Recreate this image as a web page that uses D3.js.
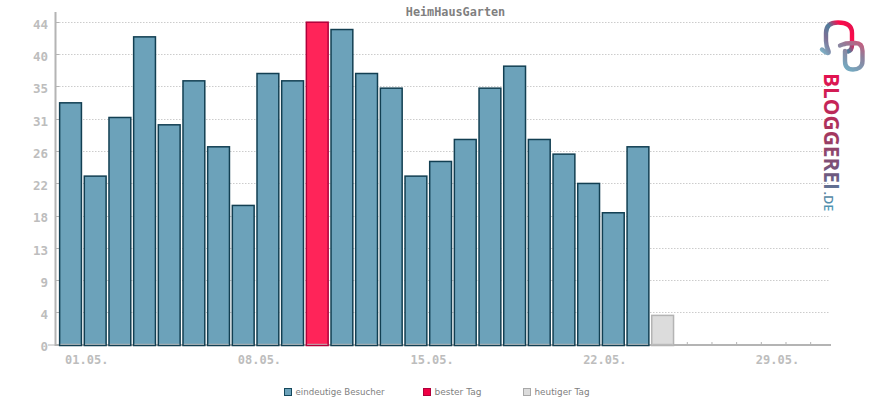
<!DOCTYPE html>
<html><head><meta charset="utf-8">
<script src="https://cdnjs.cloudflare.com/ajax/libs/d3/7.8.5/d3.min.js"></script>
<style>html,body{margin:0;padding:0;background:#fff}svg{display:block}text{font-family:"DejaVu Sans Mono",monospace}</style>
</head><body><svg id="c" width="870" height="400"></svg>
<script>
const title = "HeimHausGarten";
const days = d3.range(1, 32);
const visitors = [33,23,31,42,30,36,27,19,37,36,44,43,37,35,23,25,28,35,38,28,26,22,18,27,4];
const bestDay = 11;
const todayDay = 25;
const yTicks = [0,4.4,8.8,13.2,17.6,22,26.4,30.8,35.2,39.6,44];
const xLabels = {1:"01.05.",8:"08.05.",15:"15.05.",22:"22.05.",29:"29.05."};
const legendNames = ["eindeutige Besucher","bester Tag","heutiger Tag"];

const svg = d3.select("#c");
const x = d3.scaleBand().domain(days).range([58.2,823]).paddingInner(0.1).paddingOuter(0.05);
const y = d3.scaleLinear().domain([0,44]).range([345,22.5]);
const AX="#b4b4b4", TXT="#bdbdbd";
const style = d => d===bestDay ? {f:"#ff2459",s:"#b0003a"} : d===todayDay ? {f:"#dcdcdc",s:"#b4b4b4"} : {f:"#6ca2ba",s:"#123f52"};
const gridY = d => Math.floor(y(d))+.5;

// grid
svg.append("g").selectAll("line").data(yTicks.slice(1)).join("line")
  .attr("x1",56).attr("x2",830).attr("y1",gridY).attr("y2",gridY)
  .attr("stroke","#cccccc").attr("stroke-width",1).attr("stroke-dasharray","1.5 1.5");

// title
svg.append("text").attr("x",455.5).attr("y",16).attr("text-anchor","middle")
  .attr("font-size",11.8).attr("font-weight","bold").attr("fill","#808080").text(title);

// axes
const yAxis = d3.axisLeft(y).tickValues(yTicks).tickFormat(d=>Math.round(d)).tickSize(0).tickPadding(8);
const gy = svg.append("g").attr("transform","translate(56,0)").call(yAxis);
gy.select(".domain").remove();
gy.selectAll("text").attr("font-size",12.5).attr("font-weight","bold").attr("fill",TXT)
  .attr("font-family","DejaVu Sans Mono").attr("dy","0.62em").attr("x",-8).attr("y",-2);
svg.append("g").selectAll("line").data(yTicks.slice(1)).join("line")
  .attr("x1",56).attr("x2",59).attr("y1",gridY).attr("y2",gridY).attr("stroke",AX);

const xAxis = d3.axisBottom(x).tickValues(days).tickFormat(d=>xLabels[d]||"").tickSize(0).tickPadding(8);
const gx = svg.append("g").attr("transform","translate(0,345)").call(xAxis);
gx.select(".domain").remove();
gx.selectAll("text").attr("font-size",12).attr("font-weight","bold").attr("fill",TXT)
  .attr("font-family","DejaVu Sans Mono").attr("text-anchor","start").attr("dx",-5.5).attr("y",10);
gx.selectAll(".tick").append("line").attr("y1",-3).attr("y2",0).attr("stroke",AX);

// axis lines
svg.append("line").attr("x1",55.5).attr("x2",55.5).attr("y1",12).attr("y2",346).attr("stroke",AX).attr("stroke-width",2);
svg.append("line").attr("x1",48).attr("x2",55).attr("y1",345).attr("y2",345).attr("stroke",AX).attr("stroke-width",1);
svg.append("line").attr("x1",55).attr("x2",831).attr("y1",345).attr("y2",345).attr("stroke",AX).attr("stroke-width",2);

// bars
svg.append("g").selectAll("rect").data(visitors).join("rect")
  .attr("x",(d,i)=>x(i+1)+.2).attr("width",x.bandwidth()-.4)
  .attr("y",d=>y(d)-.3).attr("height",d=>y(0)-y(d)+.8)
  .attr("fill",(d,i)=>style(i+1).f).attr("stroke",(d,i)=>style(i+1).s).attr("stroke-width",1.5);
svg.append("g").selectAll("line").data(visitors).join("line")
  .attr("x1",(d,i)=>x(i+1)+1).attr("x2",(d,i)=>x(i+1)+x.bandwidth()-1).attr("y1",344.3).attr("y2",344.3)
  .attr("stroke",AX).attr("stroke-width",1);

// legend
const lg = [[284,295.5],[423,434.5],[523,534.5]];
const lgStyle = [{f:"#6ca2ba",s:"#15485c"},{f:"#ef0044",s:"#b0003a"},{f:"#dcdcdc",s:"#a8a8a8"}];
const lgWidth = [89,47,55];
const lgg = svg.append("g").selectAll("g").data(legendNames).join("g");
lgg.append("rect").attr("x",(d,i)=>lg[i][0]+.5).attr("y",388.5).attr("width",7).attr("height",7)
  .attr("fill",(d,i)=>lgStyle[i].f).attr("stroke",(d,i)=>lgStyle[i].s);
lgg.append("text").attr("x",(d,i)=>lg[i][1]).attr("y",395).attr("font-size",9)
  .attr("fill","#808080").style("font-family","'DejaVu Sans'")
  .attr("textLength",(d,i)=>lgWidth[i]).attr("lengthAdjust","spacingAndGlyphs").text(d=>d);

// logo
const defs = svg.append("defs");
const grad=(id,x1,y1,x2,y2,stops)=>{const g=defs.append("linearGradient").attr("id",id).attr("gradientUnits","userSpaceOnUse")
  .attr("x1",x1).attr("y1",y1).attr("x2",x2).attr("y2",y2);
  stops.forEach(s=>g.append("stop").attr("offset",s[0]).attr("stop-color",s[1]));};
grad("g1",822,52,853,28,[[0,"#7fb2c6"],[.3,"#7d6f95"],[.55,"#4f7d9c"],[.8,"#ff0a4a"],[1,"#e8104e"]]);
grad("g2",846,68,862,42,[[0,"#74a9c0"],[.6,"#8f7f9b"],[1,"#c85a7c"]]);
grad("g3",0,0,137,0,[[0,"#e5104f"],[.45,"#a3385f"],[.75,"#6d5a80"],[.88,"#5a7e9e"],[1,"#4f98b5"]]);
svg.append("path").attr("fill","none").attr("stroke","url(#g1)").attr("stroke-width",4.4).attr("stroke-linecap","round")
  .attr("d","M822,49.5 C826,53 830,54.5 828.5,51 C826.5,47 826,45 826,41 L826,33 C826,25 831,22.5 838,22.5 C847,22.5 852,26 852,33 L852,45 C852,49 850,51 848,51.5");
svg.append("path").attr("fill","none").attr("stroke","url(#g2)").attr("stroke-width",4.4).attr("stroke-linecap","round")
  .attr("d","M840,45.5 C843,44.5 844,44 846,43.5 L855,43 C860,43 862.5,46 862.5,51 L862.5,61 C862.5,67 858,69.5 853,69.5 C847,69.5 845,66 845,61 L845,51");
const lt = svg.append("g").attr("transform","translate(824,73) rotate(90)");
lt.append("text").attr("x",0).attr("y",0).style("font-family","'Open Sans'").attr("font-size",20.5).attr("font-weight",700)
  .attr("fill","url(#g3)").attr("textLength",117).attr("lengthAdjust","spacingAndGlyphs").text("BLOGGEREI");
lt.append("text").attr("x",118.5).attr("y",0).style("font-family","'Open Sans'").attr("font-size",12).attr("font-weight",600)
  .attr("fill","url(#g3)").attr("textLength",20).attr("lengthAdjust","spacingAndGlyphs").text(".DE");
</script></body></html>
